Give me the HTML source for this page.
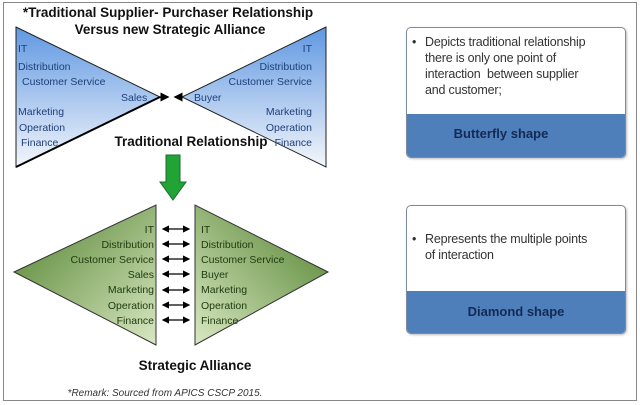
<!DOCTYPE html>
<html><head><style>
body{margin:0;width:640px;height:405px;background:#fff;overflow:hidden;font-family:"Liberation Sans",sans-serif}
.box{position:absolute;left:406px;width:218px;border:1px solid #7a8aa0;border-radius:5px;background:#fff;overflow:hidden;box-shadow:1px 1px 2px #bbb}
.box .t{padding:6px 4px 0 18px;font-size:12.5px;letter-spacing:-0.2px;white-space:nowrap;color:#333;line-height:16px;position:relative}
.box .t:before{content:"•";position:absolute;left:5px}
.box .b{position:absolute;left:0;right:0;bottom:0;background:#4f7fba;color:#132a55;font-weight:bold;font-size:13px;text-align:center}
</style></head><body>
<div style="position:absolute;left:3px;top:2px;width:632px;height:397px;border:1px solid #888"></div>
<svg width="640" height="405" style="position:absolute;left:0;top:0">
<defs>
<linearGradient id="bl" x1="0" y1="0" x2="0" y2="1"><stop offset="0" stop-color="#5f98e2"/><stop offset="1" stop-color="#f4f6fb"/></linearGradient>
<linearGradient id="gr" x1="0" y1="0" x2="1" y2="1"><stop offset="0" stop-color="#4e7f2a"/><stop offset="1" stop-color="#d9e8c2"/></linearGradient>
<linearGradient id="gr2" x1="1" y1="0" x2="0" y2="1"><stop offset="0" stop-color="#4e7f2a"/><stop offset="1" stop-color="#d9e8c2"/></linearGradient>
<marker id="a" markerWidth="6" markerHeight="6" refX="5" refY="3" orient="auto"><path d="M0,0L6,3L0,6z" fill="#000"/></marker>
<marker id="as" markerWidth="6" markerHeight="6" refX="1" refY="3" orient="auto"><path d="M6,0L0,3L6,6z" fill="#000"/></marker>
</defs>
<polygon points="16,27 160,97 16,167" fill="url(#bl)" stroke="#222" stroke-width="1"/>
<line x1="16" y1="167" x2="160" y2="97" stroke="#000" stroke-width="2"/>
<polygon points="326,27 182,97 326,167" fill="url(#bl)" stroke="#222" stroke-width="1"/>
<line x1="160" y1="97" x2="168" y2="97" stroke="#000" stroke-width="1.5" marker-end="url(#a)"/>
<line x1="182" y1="97" x2="175" y2="97" stroke="#000" stroke-width="1.5" marker-end="url(#a)"/>
<polygon points="166,155 180,155 180,182 186,182 173,200 160,182 166,182" fill="#22a335" stroke="#1a6e2a"/>
<polygon points="14,272 156,205 156,345" fill="url(#gr)" stroke="#333"/>
<polygon points="328,272 195,205 195,345" fill="url(#gr2)" stroke="#333"/>
<g stroke="#000" stroke-width="1.2" marker-end="url(#a)" marker-start="url(#as)">
<line x1="163" y1="229" x2="189" y2="229"/><line x1="163" y1="244" x2="189" y2="244"/><line x1="163" y1="259" x2="189" y2="259"/><line x1="163" y1="274" x2="189" y2="274"/><line x1="163" y1="290" x2="189" y2="290"/><line x1="163" y1="305" x2="189" y2="305"/><line x1="163" y1="320" x2="189" y2="320"/>
</g>
<g font-size="10.5" fill="#1f3f7a">
<text x="18" y="52">IT</text><text x="18" y="70">Distribution</text><text x="22" y="85">Customer Service</text><text x="121" y="101">Sales</text>
<text x="18" y="115">Marketing</text><text x="19" y="131">Operation</text><text x="21" y="146">Finance</text>
<g text-anchor="end"><text x="312" y="52">IT</text><text x="312" y="70">Distribution</text><text x="312" y="85">Customer Service</text>
<text x="312" y="115">Marketing</text><text x="312" y="131">Operation</text><text x="312" y="146">Finance</text></g>
<text x="194" y="101">Buyer</text>
</g>
<g font-size="10.5" fill="#1e3a10">
<g text-anchor="end"><text x="154" y="233">IT</text><text x="154" y="248">Distribution</text><text x="154" y="263">Customer Service</text><text x="154" y="278">Sales</text><text x="154" y="293">Marketing</text><text x="154" y="309">Operation</text><text x="154" y="324">Finance</text></g>
<text x="201" y="233">IT</text><text x="201" y="248">Distribution</text><text x="201" y="263">Customer Service</text><text x="201" y="278">Buyer</text><text x="201" y="293">Marketing</text><text x="201" y="309">Operation</text><text x="201" y="324">Finance</text>
</g>
<g font-weight="bold" font-size="13.5" fill="#111" text-anchor="middle">
<text x="168" y="17">*Traditional Supplier- Purchaser Relationship</text>
<text x="170" y="34">Versus new Strategic Alliance</text>
<text x="191" y="146">Traditional Relationship</text>
<text x="195" y="370">Strategic Alliance</text>
</g>
<text x="165" y="396" font-size="10" font-style="italic" fill="#333" text-anchor="middle">*Remark:  Sourced from APICS CSCP 2015.</text>
</svg>
<div class="box" style="top:27px;height:129px"><div class="t">Depicts traditional relationship<br>there is only one point of<br>interaction&nbsp; between supplier<br>and customer;</div><div class="b" style="height:43px;line-height:40px;padding-right:30px">Butterfly shape</div></div>
<div class="box" style="top:205px;height:127px"><div class="t" style="padding-top:25px">Represents the multiple points<br>of interaction</div><div class="b" style="height:42px;line-height:42px">Diamond shape</div></div>
</body></html>
